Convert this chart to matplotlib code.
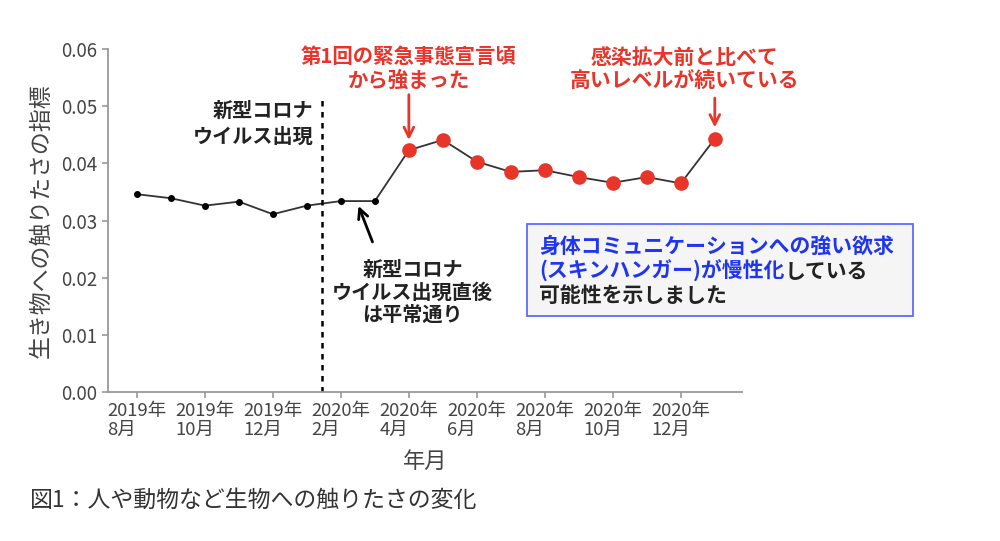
import matplotlib
matplotlib.use("Agg")
import matplotlib.pyplot as plt
from matplotlib.patches import Rectangle
from matplotlib.text import Annotation

plt.rcParams['font.family'] = ['Noto Sans CJK JP', 'DejaVu Sans']

# monthly index: 0 = 2019年8月 ... 17 = 2021年1月
months = list(range(18))
values = [0.0346, 0.0339, 0.0326, 0.0333, 0.0311, 0.0326, 0.0334, 0.0334,
          0.0423, 0.0441, 0.0403, 0.0385, 0.0388, 0.0376, 0.0366, 0.0376,
          0.0365, 0.0443]
n_before = 8  # points before the first state of emergency (black dots)
tick_pos = [0, 2, 4, 6, 8, 10, 12, 14, 16]
tick_labels = ['2019年\n8月', '2019年\n10月', '2019年\n12月', '2020年\n2月',
               '2020年\n4月', '2020年\n6月', '2020年\n8月', '2020年\n10月',
               '2020年\n12月']
yticks = [0.00, 0.01, 0.02, 0.03, 0.04, 0.05, 0.06]
covid_x = 5.44

red = '#e8352a'
blue = '#1f35f0'
gray = '#444444'

fig = plt.figure(figsize=(10, 5.41), dpi=100)
ax = fig.add_axes([0.108, 0.2754, 0.634, 0.634])

ax.plot(months, values, color='#333333', lw=1.3, zorder=2)
ax.plot(months[:n_before], values[:n_before], 'o', color='black', ms=4, zorder=3)
ax.plot(months[n_before:], values[n_before:], 'o', color=red, ms=9.5, zorder=3)

ax.vlines(covid_x, 0, 0.051, colors='black', linestyles=(0, (2.2, 2.2)), lw=1.8)

ax.set_xlim(-0.85, 17.8)
ax.set_ylim(0, 0.06)
ax.set_xticks(tick_pos)
ax.set_xticklabels(tick_labels, fontsize=13.3, color=gray, linespacing=1.05)
for lab in ax.get_xticklabels():
    lab.set_multialignment('left')
ax.set_yticks(yticks)
ax.set_yticklabels(['%.2f' % v for v in yticks], fontsize=13.5, color=gray)
for side in ['top', 'right']:
    ax.spines[side].set_visible(False)
for side in ['left', 'bottom']:
    ax.spines[side].set_color('#999999')
    ax.spines[side].set_linewidth(1.3)
ax.tick_params(colors='#999999', labelcolor=gray, length=4, width=1.2)

ax.set_ylabel('生き物への触りたさの指標', fontsize=16.5, color=gray, labelpad=6)
ax.set_xlabel('年月', fontsize=16, color=gray, labelpad=8)

# annotations
ax.text(5.19, 0.0470, '新型コロナ\nウイルス出現', ha='right', va='center',
        ma='right', fontsize=14.5, fontweight='bold', color='#222222', linespacing=1.25)
ax.annotate('', xy=(6.49, 0.0330), xytext=(6.96, 0.0258),
            arrowprops=dict(arrowstyle='->,head_length=0.7,head_width=0.35',
                            color='black', lw=2))
ax.text(8.11, 0.0175, '新型コロナ\nウイルス出現直後\nは平常通り', ha='center',
        va='center', fontsize=14.5, fontweight='bold', color='#222222', linespacing=1.1)

ax.text(8.0, 0.0566, '第1回の緊急事態宣言頃\nから強まった', ha='center', va='center',
        fontsize=14.7, fontweight='bold', color=red, linespacing=1.15, clip_on=False)
ax.annotate('', xy=(8, 0.0436), xytext=(8, 0.0525),
            arrowprops=dict(arrowstyle='->,head_length=0.7,head_width=0.35',
                            color=red, lw=2))
ax.text(16.1, 0.0564, '感染拡大前と比べて\n高いレベルが続いている', ha='center', va='center',
        fontsize=15, fontweight='bold', color=red, linespacing=1.15, clip_on=False)
ax.annotate('', xy=(17, 0.0458), xytext=(17, 0.0519),
            arrowprops=dict(arrowstyle='->,head_length=0.7,head_width=0.35',
                            color=red, lw=2))

# message box
fig.patches.append(Rectangle((0.527, 0.416), 0.386, 0.170, transform=fig.transFigure,
                             facecolor='#f5f5f5', edgecolor='#5a6cff', lw=1.3))
fig.text(0.539, 0.545, '身体コミュニケーションへの強い欲求', ha='left', va='center',
         fontsize=15, fontweight='bold', color=blue)
t2 = fig.text(0.539, 0.499, '(スキンハンガー)が慢性化', ha='left', va='center',
              fontsize=15, fontweight='bold', color=blue)
fig.text(0.539, 0.453, '可能性を示しました', ha='left', va='center',
         fontsize=15, fontweight='bold', color='#222222')
fig.add_artist(Annotation('している', xy=(1, 0), xycoords=t2, ha='left', va='bottom',
                          fontsize=15, fontweight='bold', color='#222222'))

fig.text(0.03, 0.076, '図1：人や動物など生物への触りたさの変化', ha='left', va='center',
         fontsize=16.5, color='#333333')

fig.savefig('out.png', dpi=100)
